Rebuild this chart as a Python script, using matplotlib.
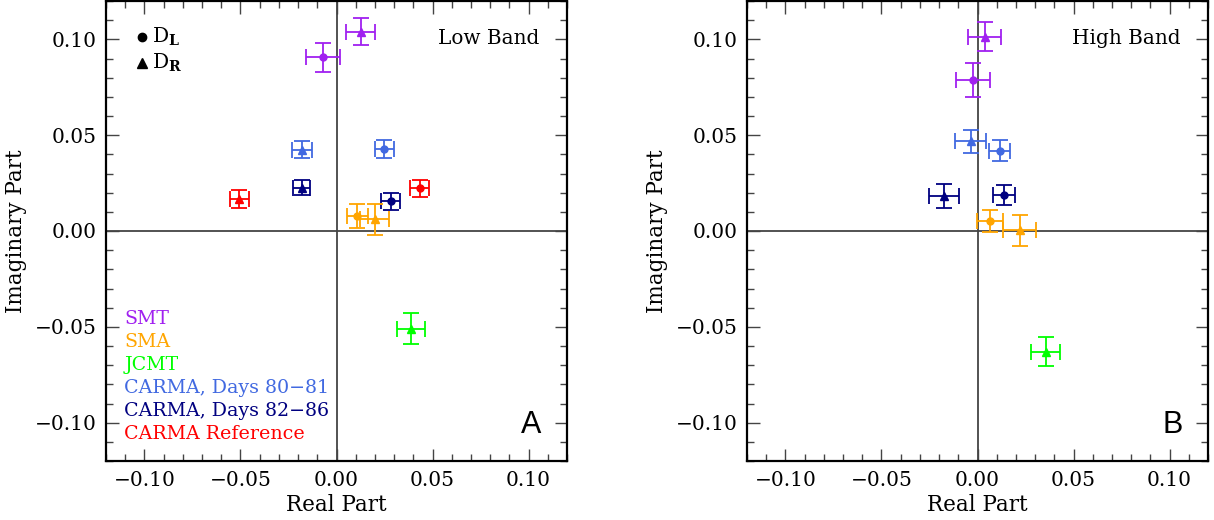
import numpy as np
import matplotlib.pyplot as plt
from matplotlib.ticker import MultipleLocator, FuncFormatter

# low band (panel A): [x, y, xerr, yerr] per telescope, D_L = circle, D_R = triangle
telescopes = ['SMT', 'SMA', 'JCMT', 'CARMA, Days 80\u221281', 'CARMA, Days 82\u221286', 'CARMA Reference']
colors = ['#A020F0', '#FFA500', '#00FF00', '#4169E1', '#000080', '#FF0000']

low_L_x = [-0.0071, 0.0109, None, 0.0248, 0.0283, 0.0434]
low_L_y = [0.0906, 0.0078, None, 0.0429, 0.0156, 0.0222]
low_L_xe = [0.0087, 0.0056, None, 0.0050, 0.0049, 0.0049]
low_L_ye = [0.0075, 0.0062, None, 0.0046, 0.0044, 0.0043]

low_R_x = [0.0125, 0.0198, 0.0387, -0.0180, -0.0182, -0.0505]
low_R_y = [0.1040, 0.0061, -0.0509, 0.0425, 0.0226, 0.0167]
low_R_xe = [0.0076, 0.0074, 0.0072, 0.0050, 0.0045, 0.0049]
low_R_ye = [0.0070, 0.0082, 0.0079, 0.0045, 0.0038, 0.0045]

# high band (panel B)
high_L_x = [-0.0024, 0.0064, None, 0.0115, 0.0139, None]
high_L_y = [0.0788, 0.0054, None, 0.0419, 0.0188, None]
high_L_xe = [0.0090, 0.0069, None, 0.0054, 0.0056, None]
high_L_ye = [0.0089, 0.0058, None, 0.0054, 0.0054, None]

high_R_x = [0.0038, 0.0220, 0.0356, -0.0035, -0.0174, None]
high_R_y = [0.1014, 0.0004, -0.0630, 0.0469, 0.0182, None]
high_R_xe = [0.0086, 0.0086, 0.0075, 0.0080, 0.0077, None]
high_R_ye = [0.0074, 0.0082, 0.0076, 0.0060, 0.0062, None]

plt.rcParams['font.family'] = ['DejaVu Serif']
plt.rcParams['mathtext.fontset'] = 'dejavuserif'

fig = plt.figure(figsize=(12.14, 5.2), dpi=100)
ax1 = fig.add_axes([106/1214, 1-461/520, 461/1214, 460/520])
ax2 = fig.add_axes([747/1214, 1-461/520, 461/1214, 460/520])


def fmt(v, pos):
    s = '%.2f' % v
    return s.replace('-', '\u2212')


def draw_set(ax, xs, ys, xes, yes, marker, ms):
    for i in range(len(xs)):
        if xs[i] is None:
            continue
        ax.errorbar(xs[i], ys[i], xerr=xes[i], yerr=yes[i], fmt=marker, color=colors[i],
                    ms=ms, elinewidth=1.3, capsize=6, capthick=1.3, zorder=3)


def setup(ax, label, band):
    ax.set_xlim(-0.12, 0.12)
    ax.set_ylim(-0.12, 0.12)
    ax.axhline(0, color='#444444', lw=1.3, zorder=1)
    ax.axvline(0, color='#444444', lw=1.3, zorder=1)
    ax.xaxis.set_major_locator(MultipleLocator(0.05))
    ax.yaxis.set_major_locator(MultipleLocator(0.05))
    ax.xaxis.set_minor_locator(MultipleLocator(0.01))
    ax.yaxis.set_minor_locator(MultipleLocator(0.01))
    ax.xaxis.set_major_formatter(FuncFormatter(fmt))
    ax.yaxis.set_major_formatter(FuncFormatter(fmt))
    ax.tick_params(which='both', direction='in', top=True, right=True, color='#444444', labelsize=14.5)
    ax.tick_params(which='major', length=9, width=1.0, pad=7)
    ax.tick_params(which='minor', length=5, width=1.0)
    for s in ax.spines.values():
        s.set_linewidth(1.6)
    ax.set_xlabel('Real Part', fontsize=15.5, labelpad=3)
    ax.set_ylabel('Imaginary Part', fontsize=15.5, labelpad=5)
    ax.text(0.94, 0.918, band, transform=ax.transAxes, ha='right', va='center', fontsize=14.4)
    ax.text(0.945, 0.045, label, transform=ax.transAxes, ha='right', va='bottom', fontsize=22,
            family='Liberation Sans')


setup(ax1, 'A', 'Low Band')
setup(ax2, 'B', 'High Band')

draw_set(ax1, low_L_x, low_L_y, low_L_xe, low_L_ye, 'o', 5)
draw_set(ax1, low_R_x, low_R_y, low_R_xe, low_R_ye, '^', 5.5)
draw_set(ax2, high_L_x, high_L_y, high_L_xe, high_L_ye, 'o', 5)
draw_set(ax2, high_R_x, high_R_y, high_R_xe, high_R_ye, '^', 5.5)

# marker key
ax1.plot([0.078], [0.922], 'o', color='black', ms=6, transform=ax1.transAxes)
ax1.plot([0.078], [0.865], '^', color='black', ms=6.5, transform=ax1.transAxes)
ax1.text(0.1, 0.922, r'D$_{\mathbf{L}}$', transform=ax1.transAxes, va='center', fontsize=14.5)
ax1.text(0.1, 0.865, r'D$_{\mathbf{R}}$', transform=ax1.transAxes, va='center', fontsize=14.5)

# telescope colour key
for i, name in enumerate(telescopes):
    ax1.text(0.04, 0.3087 - i * 0.05, name, color=colors[i], transform=ax1.transAxes,
             va='center', fontsize=13.7)

fig.savefig('out.png', dpi=100)
